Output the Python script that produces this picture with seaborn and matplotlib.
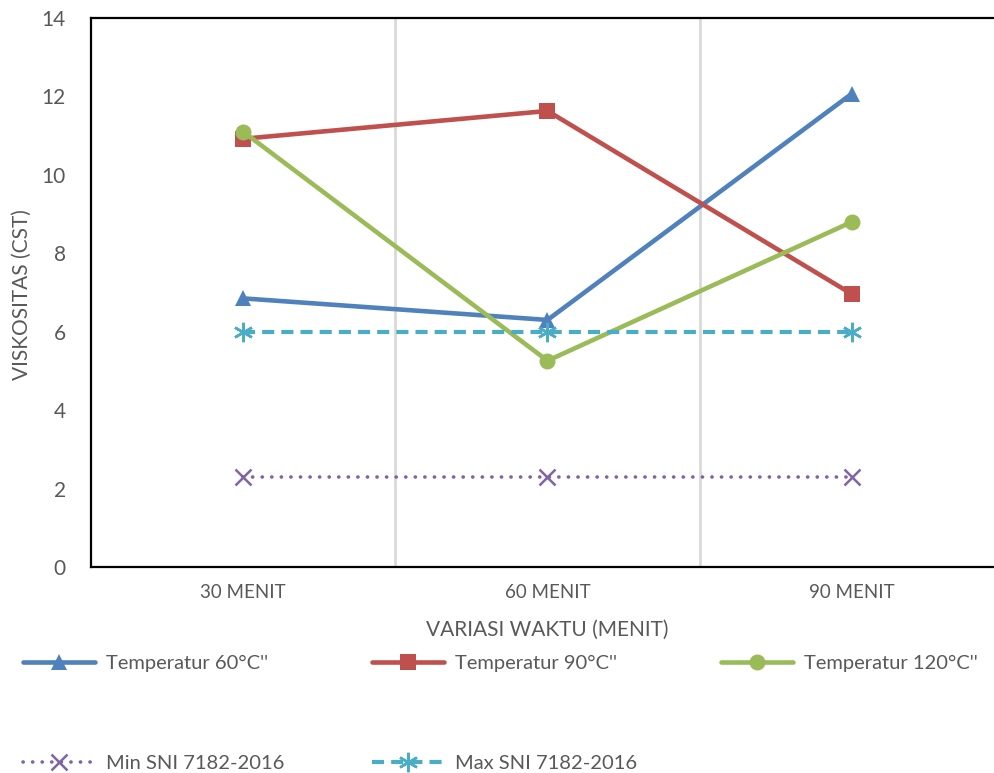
import matplotlib
matplotlib.use("Agg")
import matplotlib.pyplot as plt
import seaborn as sns
import pandas as pd

# Data
waktu = ["30 MENIT", "60 MENIT", "90 MENIT"]
temp_60 = [6.85, 6.30, 12.07]
temp_90 = [10.92, 11.63, 6.96]
temp_120 = [11.10, 5.26, 8.80]
min_sni = [2.3, 2.3, 2.3]
max_sni = [6.0, 6.0, 6.0]

series_names = ["Temperatur 60°C''", "Temperatur 90°C''", "Temperatur 120°C''",
                "Min SNI 7182-2016", "Max SNI 7182-2016"]

sns.set_theme(style="white")
plt.rcParams["font.family"] = ["Lato", "DejaVu Sans"]
text_gray = "#595959"

fig = plt.figure(figsize=(9.95, 7.73), dpi=100)
W, H = 995, 773
ax = fig.add_axes([91 / W, 1 - 567 / H, (1004 - 91) / W, (567 - 18) / H])

styles = [
    dict(data=temp_60, color="#4F81BD", marker="^", ms=12, lw=3.3, ls="-"),
    dict(data=temp_90, color="#C0504D", marker="s", ms=11, lw=3.3, ls="-"),
    dict(data=temp_120, color="#9BBB59", marker="o", ms=11.5, lw=3.3, ls="-"),
    dict(data=min_sni, color="#8064A2", marker="x", ms=11, lw=2.6, ls=(0, (0.05, 2.6))),
    dict(data=max_sni, color="#4BACC6", marker=(6, 2, 0), ms=14, lw=3.0, ls=(0, (2.9, 1.7))),
]

handles = {}
for name, st in zip(series_names, styles):
    df = pd.DataFrame({"waktu": waktu, "nilai": st["data"]})
    stroke_marker = st["marker"] == "x" or isinstance(st["marker"], tuple)
    sns.lineplot(data=df, x="waktu", y="nilai", ax=ax, color=st["color"],
                 marker=st["marker"], markersize=st["ms"], linewidth=st["lw"],
                 markeredgecolor=st["color"], markeredgewidth=1.8 if stroke_marker else 0,
                 label=name, sort=False)
    line = ax.lines[-1]
    line.set_linestyle(st["ls"])
    line.set_dash_capstyle("round" if st["marker"] == "x" else "butt")
    handles[name] = line

leg = ax.get_legend()
if leg is not None:
    leg.remove()

ax.set_xlim(-0.5, 2.5)
ax.set_ylim(0, 14)
ax.set_yticks(range(0, 15, 2))
for xv in (0.5, 1.5, 2.5):
    ax.axvline(xv, color="#D9D9D9", lw=2, zorder=0)

for side in ("left", "top", "bottom", "right"):
    ax.spines[side].set_color("black")
    ax.spines[side].set_linewidth(1.6)

ax.tick_params(axis="y", length=0, pad=18, labelsize=15, labelcolor=text_gray)
ax.tick_params(axis="x", length=0, pad=12, labelsize=13.5, labelcolor=text_gray)

ax.set_xlabel("VARIASI WAKTU (MENIT)", fontsize=15, color=text_gray, labelpad=14)
ax.set_ylabel("VISKOSITAS (CST)", fontsize=15, color=text_gray, va="center")
ax.yaxis.set_label_coords(22 / W, 1 - 295 / H, transform=fig.transFigure)

# Legend laid out as three columns; the standard limits sit under the first two
columns = [
    (23, [series_names[0], series_names[3]]),
    (372, [series_names[1], series_names[4]]),
    (721, [series_names[2]]),
]
for x0, names in columns:
    fig.legend([handles[n] for n in names], names, loc="upper left",
               bbox_to_anchor=(x0 / W, 1 - 655 / H), ncol=1, frameon=False,
               fontsize=14.5, labelcolor=text_gray, handlelength=3.58,
               handletextpad=0.55, labelspacing=4.1, borderpad=0,
               borderaxespad=0, numpoints=1)

fig.savefig("out.png", dpi=100)
